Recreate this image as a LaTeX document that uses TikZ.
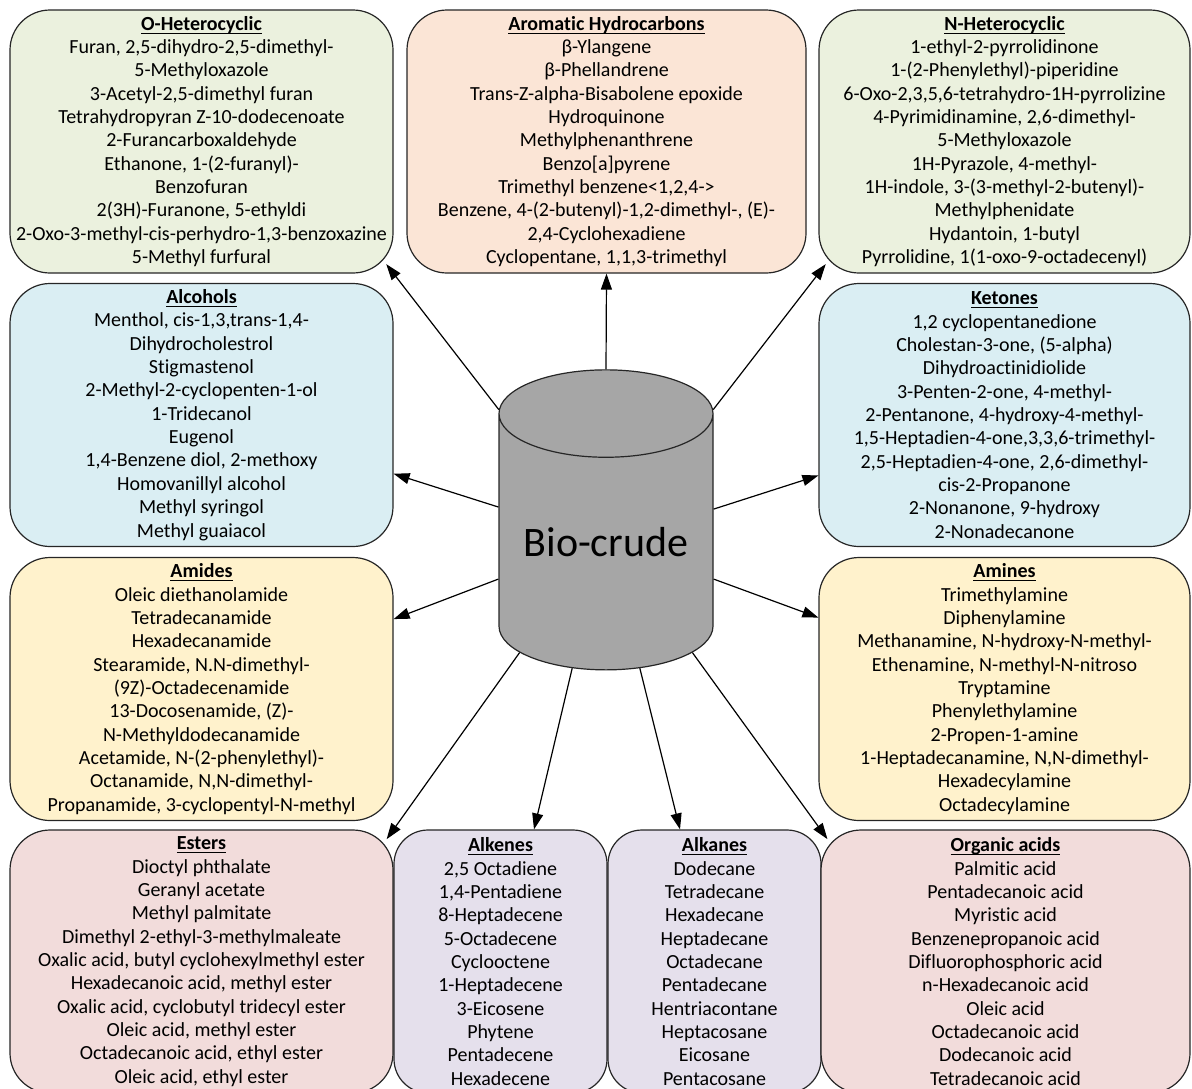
\documentclass[tikz,border=0pt]{standalone}
\usepackage{fontspec}
\setmainfont{Carlito}[Ligatures=NoCommon]
\usepackage{tikz}
\usetikzlibrary{shapes.geometric,arrows.meta}

\definecolor{hetgreen}{HTML}{EBF1DE}
\definecolor{aropeach}{HTML}{FBE5D6}
\definecolor{alcblue}{HTML}{DAEEF3}
\definecolor{amyellow}{HTML}{FFF2CC}
\definecolor{acidpink}{HTML}{F2DCDB}
\definecolor{alklilac}{HTML}{E5E0EC}
\definecolor{biogray}{HTML}{A6A6A6}

\newcommand{\cattitle}[1]{\underline{\raisebox{0pt}[\height][0pt]{\textbf{#1}}}}

\begin{document}
\begin{tikzpicture}[x=.5pt, y=-.5pt,
		box/.style={draw=black!85, line width=.6pt, rounded corners=20pt, align=center, inner sep=0pt, minimum height=131.5pt, font=\fontsize{10}{11.67}\selectfont},
		widebox/.style={box, minimum width=191.5pt},
		rightbox/.style={box, minimum width=185.5pt},
		narrowbox/.style={box, minimum width=106.5pt, rounded corners=17pt},
		conn/.style={-{Triangle[length=8pt,width=5.5pt]}, line width=.6pt},
		cornerconn/.style={conn, shorten >=-6pt}]
	\useasboundingbox (0,0) rectangle (1192,1088);
		\node[widebox, fill=hetgreen] (ohet) at (201.5,141.5) {\cattitle{O-Heterocyclic}\\Furan, 2,5-dihydro-2,5-dimethyl-\\5-Methyloxazole\\3-Acetyl-2,5-dimethyl furan\\Tetrahydropyran Z-10-dodecenoate\\2-Furancarboxaldehyde\\Ethanone, 1-(2-furanyl)-\\Benzofuran\\2(3H)-Furanone, 5-ethyldi\\2-Oxo-3-methyl-cis-perhydro-1,3-benzoxazine\\5-Methyl furfural};
		\node[box, fill=aropeach, minimum width=199.5pt] (aro) at (606.5,141.5) {\cattitle{Aromatic Hydrocarbons}\\β-Ylangene\\β-Phellandrene\\Trans-Z-alpha-Bisabolene epoxide\\Hydroquinone\\Methylphenanthrene\\Benzo[a]pyrene\\Trimethyl benzene<1,2,4->\\Benzene, 4-(2-butenyl)-1,2-dimethyl-, (E)-\\2,4-Cyclohexadiene\\Cyclopentane, 1,1,3-trimethyl};
		\node[rightbox, fill=hetgreen] (nhet) at (1004.5,141.5) {\cattitle{N-Heterocyclic}\\1-ethyl-2-pyrrolidinone\\1-(2-Phenylethyl)-piperidine\\6-Oxo-2,3,5,6-tetrahydro-1H-pyrrolizine\\4-Pyrimidinamine, 2,6-dimethyl-\\5-Methyloxazole\\1H-Pyrazole, 4-methyl-\\1H-indole, 3-(3-methyl-2-butenyl)-\\Methylphenidate\\Hydantoin, 1-butyl\\Pyrrolidine, 1(1-oxo-9-octadecenyl)};
		\node[widebox, fill=alcblue] (alc) at (201.5,415) {\cattitle{Alcohols}\\Menthol, cis-1,3,trans-1,4-\\Dihydrocholestrol\\Stigmastenol\\2-Methyl-2-cyclopenten-1-ol\\1-Tridecanol\\Eugenol\\1,4-Benzene diol, 2-methoxy\\Homovanillyl alcohol\\Methyl syringol\\Methyl guaiacol};
		\node[rightbox, fill=alcblue] (ket) at (1004.5,415) {\cattitle{Ketones}\\1,2 cyclopentanedione\\Cholestan-3-one, (5-alpha)\\Dihydroactinidiolide\\3-Penten-2-one, 4-methyl-\\2-Pentanone, 4-hydroxy-4-methyl-\\1,5-Heptadien-4-one,3,3,6-trimethyl-\\2,5-Heptadien-4-one, 2,6-dimethyl-\\cis-2-Propanone\\2-Nonanone, 9-hydroxy\\2-Nonadecanone};
		\node[widebox, fill=amyellow] (amd) at (201.5,689) {\cattitle{Amides}\\Oleic diethanolamide\\Tetradecanamide\\Hexadecanamide\\Stearamide, N.N-dimethyl-\\(9Z)-Octadecenamide\\13-Docosenamide, (Z)-\\N-Methyldodecanamide\\Acetamide, N-(2-phenylethyl)-\\Octanamide, N,N-dimethyl-\\Propanamide, 3-cyclopentyl-N-methyl};
		\node[rightbox, fill=amyellow] (amn) at (1004.5,689) {\cattitle{Amines}\\Trimethylamine\\Diphenylamine\\Methanamine, N-hydroxy-N-methyl-\\Ethenamine, N-methyl-N-nitroso\\Tryptamine\\Phenylethylamine\\2-Propen-1-amine\\1-Heptadecanamine, N,N-dimethyl-\\Hexadecylamine\\Octadecylamine};
		\node[widebox, fill=acidpink] (est) at (201.5,961.5) {\cattitle{Esters}\\Dioctyl phthalate\\Geranyl acetate\\Methyl palmitate\\Dimethyl 2-ethyl-3-methylmaleate\\Oxalic acid, butyl cyclohexylmethyl ester\\Hexadecanoic acid, methyl ester\\Oxalic acid, cyclobutyl tridecyl ester\\Oleic acid, methyl ester\\Octadecanoic acid, ethyl ester\\Oleic acid, ethyl ester};
		\node[narrowbox, fill=alklilac] (alke) at (500.5,961.5) {\cattitle{Alkenes}\\2,5 Octadiene\\1,4-Pentadiene\\8-Heptadecene\\5-Octadecene\\Cyclooctene\\1-Heptadecene\\3-Eicosene\\Phytene\\Pentadecene\\Hexadecene};
		\node[narrowbox, fill=alklilac] (alka) at (714.5,961.5) {\cattitle{Alkanes}\\Dodecane\\Tetradecane\\Hexadecane\\Heptadecane\\Octadecane\\Pentadecane\\Hentriacontane\\Heptacosane\\Eicosane\\Pentacosane};
		\node[box, fill=acidpink, minimum width=184.5pt] (org) at (1005.5,961.5) {\cattitle{Organic acids}\\Palmitic acid\\Pentadecanoic acid\\Myristic acid\\Benzenepropanoic acid\\Difluorophosphoric acid\\n-Hexadecanoic acid\\Oleic acid\\Octadecanoic acid\\Dodecanoic acid\\Tetradecanoic acid};
	\node[cylinder, shape border rotate=90, aspect=.53, draw=black!85, line width=.6pt, fill=biogray, minimum width=107pt, minimum height=150pt, inner sep=0pt, font=\fontsize{21}{25}\selectfont] (bio) at (606,542) {Bio-crude};
			\draw[conn] (bio.north) -- (aro.south);
			\draw[cornerconn] (bio.129) -- (ohet.south east);
			\draw[cornerconn] (bio.51) -- (nhet.south west);
				\foreach \a/\b in {162.4/alc.-17.7, 17.6/ket.198.2, 199.6/amd.20.3, -19.6/amn.159.7}
					\draw[conn] (bio.\a) -- (\b);
			\draw[cornerconn] (bio.232.9) -- (est.north east);
			\draw[cornerconn] (bio.-52.6) -- (org.north west);
			\draw[conn] (bio.255.8) -- ([xshift=16.75pt]alke.north);
			\draw[conn] (bio.-75.5) -- ([xshift=-17.25pt]alka.north);
\end{tikzpicture}
\end{document}
